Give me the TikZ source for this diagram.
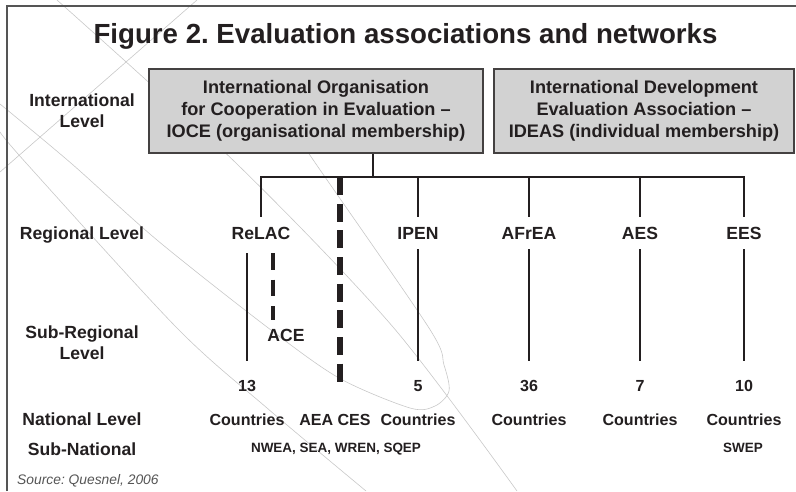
\documentclass[tikz,border=0pt]{standalone}
\usepackage{fontspec}
\setmainfont{Liberation Sans}
\frenchspacing
\definecolor{ink}{HTML}{231F20}
\definecolor{boxfill}{HTML}{D2D2D2}
\definecolor{wmark}{HTML}{C8C8C8}
\definecolor{framecol}{HTML}{555555}
\begin{document}
\begin{tikzpicture}[x=0.03cm,y=-0.03cm,
  lbl/.style={inner sep=0, anchor=base, text=ink, font=\fontsize{15}{18}\selectfont\bfseries},
  cnt/.style={inner sep=0, anchor=base, text=ink, font=\fontsize{13.7}{16}\selectfont\bfseries},
  small/.style={inner sep=0, anchor=base, text=ink, font=\fontsize{11.5}{14}\selectfont\bfseries},
  orgbox/.style={draw=ink!85, line width=1.7pt, fill=boxfill, text=ink, align=center,
    inner sep=0, minimum height=2.52cm,
    font=\fontsize{15.5}{18.8}\selectfont\bfseries},
  link/.style={draw=ink, line width=1.6pt},
  bigdash/.style={draw=ink, line width=4.4pt, dash pattern=on 0.54cm off 0.26cm},
  smalldash/.style={draw=ink, line width=3.4pt, dash pattern=on 0.5cm off 0.3cm},
  wm/.style={draw=wmark, line width=0.5pt}]
\useasboundingbox (0,0) rectangle (796,491);
\fill[white] (0,0) rectangle (796,491);

% faint background watermark strokes
\draw[wm] (197,0) -- (0,172);
\draw[wm] plot[smooth] coordinates {(0,132) (27,164) (177,328) (267,408) (366,491)};
\draw[wm] plot[smooth] coordinates {(57,0) (237,164) (393,327) (517,491)};
\draw[wm] plot[smooth] coordinates {(0,104) (72,164) (157,240) (267,327) (339,378) (410,408) (435,406) (449,391) (444,365) (429,328) (316,164) (300,140)};

% frame
\draw[framecol, line width=1.3pt] (7,491) -- (7,6) -- (796,6);

% title
\node[inner sep=0, anchor=base, text=ink, font=\fontsize{23.6}{28}\selectfont\bfseries]
  (title) at (405.5,43) {Figure 2. Evaluation associations and networks};

% international organisations
\node[orgbox, minimum width=10.02cm] (ioce) at (316,111)
  {International Organisation\\for Cooperation in Evaluation --\\IOCE (organisational membership)};
\node[orgbox, minimum width=9.0cm] (ideas) at (644,111)
  {International Development\\Evaluation Association --\\IDEAS (individual membership)};

% level labels
\node[lbl] (lvInt1) at (82,106) {International};
\node[lbl] (lvInt2) at (82,127) {Level};
\node[lbl] (lvReg) at (82,239) {Regional Level};
\node[lbl] (lvSub1) at (82,338) {Sub-Regional};
\node[lbl] (lvSub2) at (82,359) {Level};
\node[lbl] (lvNat) at (82,425) {National Level};
\node[lbl] (lvSubN) at (82,455) {Sub-National};
\node[inner sep=0, anchor=base west, text=framecol, font=\fontsize{11.8}{14}\selectfont\itshape]
  (src) at (17,484) {Source: Quesnel, 2006};

% regional associations
\node[lbl] (relac) at (261,239) {ReLAC};
\node[lbl] (ipen)  at (418,239) {IPEN};
\node[lbl] (afrea) at (529,239) {AFrEA};
\node[lbl] (aes)   at (640,239) {AES};
\node[lbl] (ees)   at (744,239) {EES};
\node[lbl] (ace)   at (286,341) {ACE};

% member counts
\node[cnt] (n13) at (247,391) {13};
\node[cnt] (n5)  at (418,391) {5};
\node[cnt] (n36) at (529,391) {36};
\node[cnt] (n7)  at (640,391) {7};
\node[cnt] (n10) at (744,391) {10};

\node[cnt] (c13) at (247,425) {Countries};
\node[cnt] (aea) at (335,425) {AEA CES};
\node[cnt] (c5)  at (418,425) {Countries};
\node[cnt] (c36) at (529,425) {Countries};
\node[cnt] (c7)  at (640,425) {Countries};
\node[cnt] (c10) at (744,425) {Countries};

\node[small] (subnat) at (336,452) {NWEA, SEA, WREN, SQEP};
\node[small] (swep)   at (743,452) {SWEP};

% tree below IOCE
\coordinate (hub)   at (373,177);
\coordinate (barL)  at (261,177);
\coordinate (barR)  at (744,177);
\coordinate (dashTop) at (340,177);
\coordinate (aceTop)  at (273,253);

\draw[link] (ioce.south -| hub) -- (hub);
\draw[link, line cap=rect] (barL) -- (barR);
\foreach \n in {relac,ipen,afrea,aes,ees}
  \draw[link, shorten >=9.5*0.03cm] (\n.north |- hub) -- (\n.north);

\draw[bigdash, shorten >=30*0.03cm] (dashTop) -- (dashTop |- aea.north);

% links from regional bodies to member counts
\draw[link, shorten <=14*0.03cm, shorten >=18.5*0.03cm] (n13.north |- relac.south) -- (n13.north);
\foreach \a/\b in {ipen/n5,afrea/n36,aes/n7,ees/n10}
  \draw[link, shorten <=10*0.03cm, shorten >=18.5*0.03cm] (\b.north |- \a.south) -- (\b.north);
\draw[smalldash, shorten >=8.5*0.03cm] (aceTop) -- (aceTop |- ace.north);
\end{tikzpicture}
\end{document}
